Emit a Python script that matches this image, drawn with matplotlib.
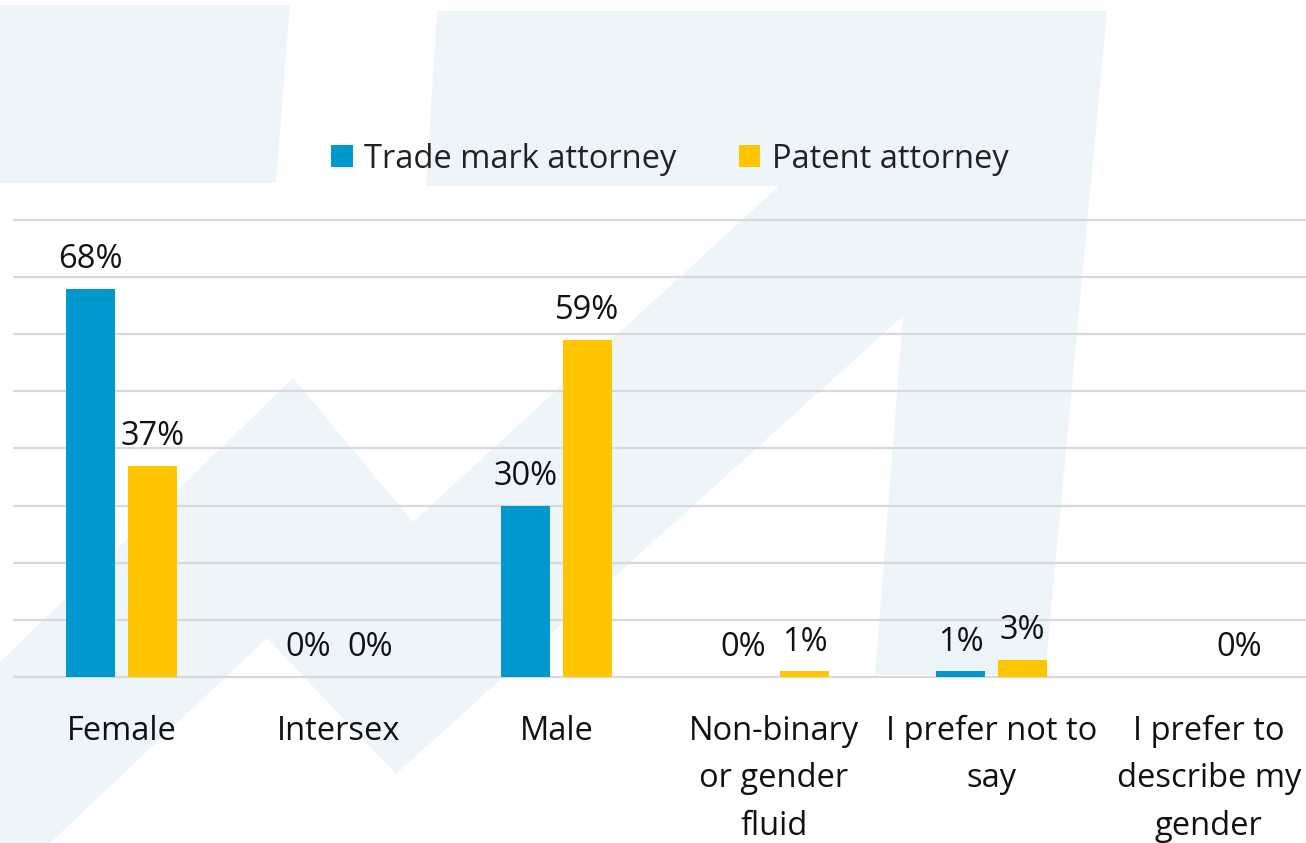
import matplotlib
matplotlib.use("Agg")
import matplotlib.pyplot as plt
from matplotlib.patches import Polygon, Patch
import numpy as np

categories = ["Female", "Intersex", "Male", "Non-binary\nor gender\nfluid",
              "I prefer not to\nsay", "I prefer to\ndescribe my\ngender"]
trade_mark = [68, 0, 30, 0, 1, np.nan]
patent = [37, 0, 59, 1, 3, 0]
series_names = ["Trade mark attorney", "Patent attorney"]

BLUE = "#0099CF"
YELLOW = "#FFC600"
BG_SHAPE = "#EEF5F9"
GRID = "#D9D9D9"
TEXT = "#111111"
FONT = "Open Sans"
FS = 23.5

W, H = 1306, 843
fig = plt.figure(figsize=(W / 100, H / 100), dpi=100)
fig.patch.set_facecolor("white")

# decorative background shapes (pixel coordinates)
bg = fig.add_axes([0, 0, 1, 1], zorder=0)
bg.set_xlim(0, W)
bg.set_ylim(H, 0)
bg.axis("off")
shape1 = [(0, 5), (290, 5), (276, 183), (0, 183)]
shape2 = [(437, 11), (1107, 11), (1045, 675), (875, 675), (903, 316),
          (396, 774), (267, 638), (50, 843), (0, 843), (0, 662),
          (293, 378), (413, 522), (779, 186), (426, 186)]
for s in (shape1, shape2):
    bg.add_patch(Polygon(s, closed=True, facecolor=BG_SHAPE, edgecolor="none"))

# main axes
px_per = (677 - 220) / 80.0
ymin, ymax = -1, 82
ax_bottom = 1 - (677 + 1 * px_per) / H
ax_top = 1 - (677 - 82 * px_per) / H
ax_w = 6 * 217.4
ax = fig.add_axes([13 / W, ax_bottom, ax_w / W, ax_top - ax_bottom], zorder=1)
ax.patch.set_alpha(0)
ax.set_ylim(ymin, ymax)
ax.set_xlim(-0.5, len(categories) - 0.5)

x = np.arange(len(categories))
bw = 0.226
off = 0.142
ax.bar(x - off, trade_mark, width=bw, color=BLUE, zorder=3)
ax.bar(x + off, patent, width=bw, color=YELLOW, zorder=3)

for xs, vals in ((x - off, trade_mark), (x + off, patent)):
    for xi, v in zip(xs, vals):
        if np.isnan(v):
            continue
        ax.annotate(f"{v:.0f}%", (xi, v), xytext=(0, 21), textcoords="offset points",
                    ha="center", va="center", fontsize=FS, color=TEXT, family=FONT)

ax.set_yticks(np.arange(0, 81, 10))
ax.yaxis.grid(True, color=GRID, linewidth=1.6, zorder=0)
ax.set_yticklabels([])
ax.tick_params(axis="y", length=0)
ax.set_xticks(x)
ax.set_xticklabels(categories, fontsize=FS, color=TEXT, family=FONT, linespacing=1.58)
ax.tick_params(axis="x", length=0, pad=23)
for sp in ax.spines.values():
    sp.set_visible(False)

handles = [Patch(facecolor=BLUE, edgecolor="none"), Patch(facecolor=YELLOW, edgecolor="none")]
leg = fig.legend(handles, series_names, loc="center", bbox_to_anchor=(670 / W, 1 - 159 / H),
                 ncol=2, frameon=False, handlelength=0.66, handleheight=0.66,
                 handletextpad=0.35, columnspacing=1.9,
                 prop={"family": FONT, "size": FS})
for t in leg.get_texts():
    t.set_color("#222222")

fig.savefig("out.png", dpi=100)
